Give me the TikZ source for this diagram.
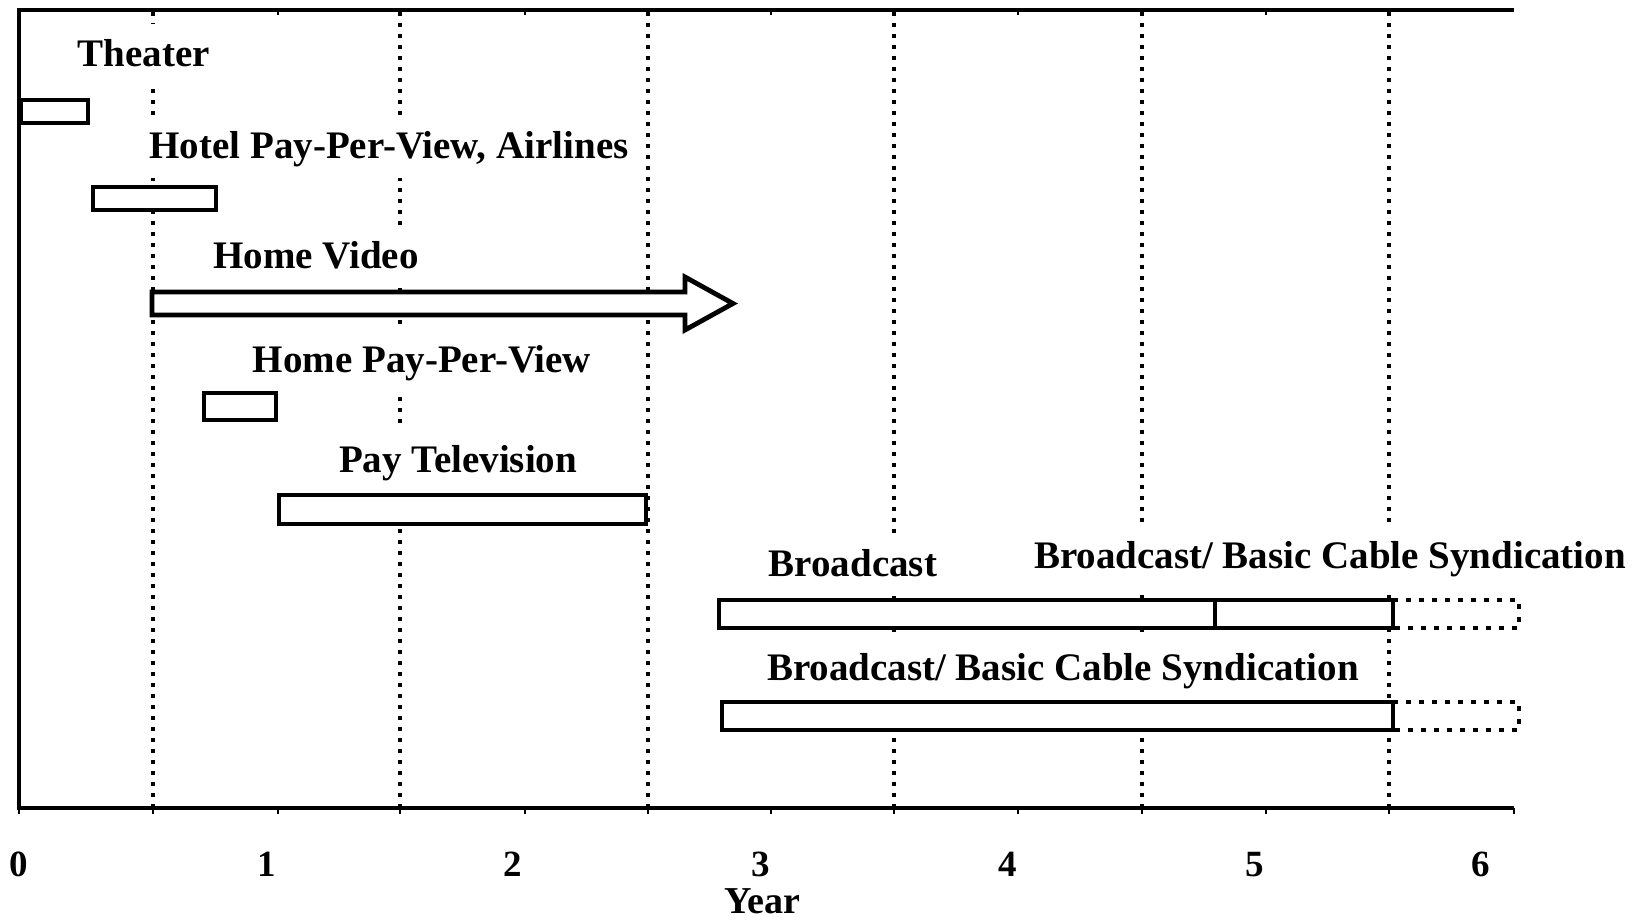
\documentclass[tikz,border=0pt]{standalone}
\usepackage{fontspec}
\setmainfont{Liberation Serif}
\begin{document}
\begin{tikzpicture}[x=0.5pt,y=-0.5pt,
  lbl/.style={font=\fontsize{19.5}{21}\selectfont\bfseries, fill=white, inner xsep=4pt, inner ysep=7pt, text height=14pt, text depth=3pt, anchor=base},
  num/.style={font=\fontsize{18.5}{20}\selectfont\bfseries, inner sep=0pt, anchor=base},
  bar/.style={draw=black, line width=2.4pt, fill=white},
  gridline/.style={line width=1.6pt, dash pattern=on 2pt off 3.5pt},
  ext/.style={line width=2.2pt, dash pattern=on 2.5pt off 4pt},
  axisline/.style={line width=2.4pt},
  tickline/.style={line width=1pt}]
\useasboundingbox (0,0) rectangle (1646,921);
% vertical dashed grid
\foreach \x in {153,400,648,894,1142,1389} \draw[gridline] (\x,12) -- (\x,806);
% labels
\node[lbl] (theater) at (144,66) {Theater};
\node[lbl] (hotel) at (389,158) {Hotel Pay-Per-View, Airlines};
\node[lbl] (video) at (316,268) {Home Video};
\node[lbl] (hppv) at (422,372) {Home Pay-Per-View};
\node[lbl] (paytv) at (458,472) {Pay Television};
\node[lbl] (bcast) at (853,576) {Broadcast};
\node[lbl] (synd1) at (1330,568) {Broadcast/ Basic Cable Syndication};
\node[lbl] (synd2) at (1063,680) {Broadcast/ Basic Cable Syndication};
% bars
\draw[bar] (21,100) rectangle (88,123);
\draw[bar] (93,187) rectangle (216,210);
\draw[bar] (152,292) -- (685,292) -- (685,277) -- (733,303.5) -- (685,330) -- (685,315) -- (152,315) -- cycle;
\draw[bar] (204,393) rectangle (276,420);
\draw[bar] (279,495) rectangle (646,524);
\draw[ext] (1393,600) -- (1519,600) -- (1519,628) -- (1393,628);
\draw[bar] (719,600) rectangle (1393,628);
\draw[axisline] (1215,600) -- (1215,628);
\draw[ext] (1393,702) -- (1519,702) -- (1519,730) -- (1393,730);
\draw[bar] (722,702) rectangle (1393,730);
% frame
\draw[axisline] (19,8) -- (19,810);
\draw[axisline] (17,10) -- (1514,10);
\draw[axisline] (17,808) -- (1514,808);
\foreach \x in {19,153,278,400,525,648,771,894,1018,1142,1266,1389,1514} \draw[tickline] (\x,808) -- (\x,814);
\foreach \x in {278,525,771,1018,1266} \draw[tickline] (\x,10) -- (\x,15);
% axis numbers
\node[num] (n0) at (19,876) {0};
\node[num] (n1) at (267,876) {1};
\node[num] (n2) at (513,876) {2};
\node[num] (n3) at (761,876) {3};
\node[num] (n4) at (1008,876) {4};
\node[num] (n5) at (1255,876) {5};
\node[num] (n6) at (1481,876) {6};
\node[num, font=\fontsize{19}{20}\selectfont\bfseries] (year) at (762,913) {Year};
\end{tikzpicture}
\end{document}
